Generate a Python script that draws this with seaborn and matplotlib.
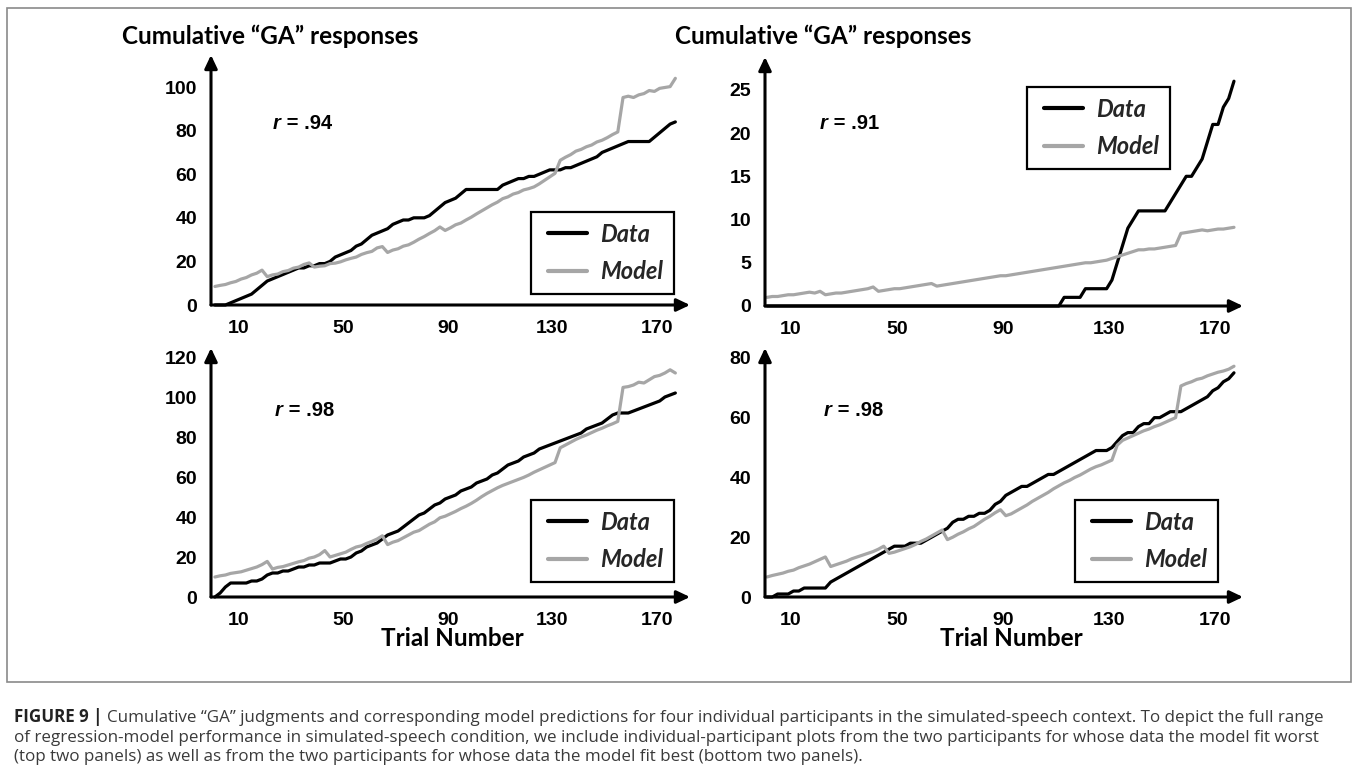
import matplotlib
matplotlib.use("Agg")
import matplotlib.pyplot as plt
import pandas as pd
import seaborn as sns
from matplotlib.lines import Line2D
from matplotlib.legend_handler import HandlerLine2D
from matplotlib.patches import Rectangle

# Trials are plotted at every second trial number
trials = list(range(1, 178, 2))

# Participant A (worst fit, r = .94)
a_data = [0, 0, 0, 1, 2, 3, 4, 5, 7, 9,
          11, 12, 13, 14, 15, 16, 17, 17, 18, 18,
          19, 19, 20, 22, 23, 24, 25, 27, 28, 30,
          32, 33, 34, 35, 37, 38, 39, 39, 40, 40,
          40, 41, 43, 45, 47, 48, 49, 51, 53, 53,
          53, 53, 53, 53, 53, 55, 56, 57, 58, 58,
          59, 59, 60, 61, 62, 62, 62, 63, 63, 64,
          65, 66, 67, 68, 70, 71, 72, 73, 74, 75,
          75, 75, 75, 75, 77, 79, 81, 83, 84]
a_model = [8.5, 9.0, 9.4, 10.2, 10.8, 11.9, 12.6, 13.8, 14.6, 16.0,
           13.0, 13.8, 14.2, 15.3, 15.8, 16.9, 17.4, 18.6, 19.3, 17.4,
           17.8, 18.0, 19.0, 19.2, 19.8, 20.7, 21.4, 22.0, 23.2, 24.0,
           24.6, 26.2, 26.8, 24.1, 25.2, 25.8, 27.0, 27.6, 28.8, 30.2,
           31.4, 32.8, 34.1, 35.8, 34.2, 35.4, 36.8, 37.6, 39.0, 40.3,
           41.8, 43.2, 44.6, 46.0, 47.2, 48.8, 49.6, 50.9, 51.6, 52.8,
           53.4, 54.2, 55.6, 57.2, 58.8, 60.4, 66.4, 67.8, 69.0, 70.6,
           71.4, 72.6, 73.4, 74.8, 75.6, 76.8, 78.2, 79.4, 95.2, 95.8,
           95.2, 96.4, 97.0, 98.4, 98.0, 99.4, 99.8, 100.2, 104.0]

# Participant B (worst fit, r = .91)
b_data = [0, 0, 0, 0, 0, 0, 0, 0, 0, 0,
          0, 0, 0, 0, 0, 0, 0, 0, 0, 0,
          0, 0, 0, 0, 0, 0, 0, 0, 0, 0,
          0, 0, 0, 0, 0, 0, 0, 0, 0, 0,
          0, 0, 0, 0, 0, 0, 0, 0, 0, 0,
          0, 0, 0, 0, 0, 0, 1, 1, 1, 1,
          2, 2, 2, 2, 2, 3, 5, 7, 9, 10,
          11, 11, 11, 11, 11, 11, 12, 13, 14, 15,
          15, 16, 17, 19, 21, 21, 23, 24, 26]
b_model = [1.0, 1.1, 1.1, 1.2, 1.3, 1.3, 1.4, 1.5, 1.6, 1.5,
           1.7, 1.3, 1.4, 1.5, 1.5, 1.6, 1.7, 1.8, 1.9, 2.0,
           2.2, 1.7, 1.8, 1.9, 2.0, 2.0, 2.1, 2.2, 2.3, 2.4,
           2.5, 2.6, 2.3, 2.4, 2.5, 2.6, 2.7, 2.8, 2.9, 3.0,
           3.1, 3.2, 3.3, 3.4, 3.5, 3.5, 3.6, 3.7, 3.8, 3.9,
           4.0, 4.1, 4.2, 4.3, 4.4, 4.5, 4.6, 4.7, 4.8, 4.9,
           5.0, 5.0, 5.1, 5.2, 5.3, 5.5, 5.7, 5.9, 6.1, 6.3,
           6.5, 6.5, 6.6, 6.6, 6.7, 6.8, 6.9, 7.0, 8.4, 8.5,
           8.6, 8.7, 8.8, 8.7, 8.8, 8.9, 8.9, 9.0, 9.1]

# Participant C (best fit, r = .98)
c_data = [0, 2, 5, 7, 7, 7, 7, 8, 8, 9,
          11, 12, 12, 13, 13, 14, 15, 15, 16, 16,
          17, 17, 17, 18, 19, 19, 20, 22, 23, 25,
          26, 27, 29, 31, 32, 33, 35, 37, 39, 41,
          42, 44, 46, 47, 49, 50, 51, 53, 54, 55,
          57, 58, 59, 61, 62, 64, 66, 67, 68, 70,
          71, 72, 74, 75, 76, 77, 78, 79, 80, 81,
          82, 84, 85, 86, 87, 89, 91, 92, 92, 92,
          93, 94, 95, 96, 97, 98, 100, 101, 102]
c_model = [10.0, 10.6, 11.0, 11.8, 12.2, 12.6, 13.4, 14.2, 15.0, 16.2,
           17.8, 14.0, 14.8, 15.2, 16.0, 16.8, 17.6, 18.2, 19.4, 20.0,
           21.2, 23.2, 20.0, 20.8, 21.6, 22.4, 23.8, 25.0, 25.6, 26.8,
           27.8, 29.0, 30.6, 26.2, 27.4, 28.2, 29.6, 31.0, 32.4, 33.2,
           34.8, 36.4, 37.6, 39.6, 40.4, 41.6, 42.8, 44.2, 45.4, 46.8,
           48.4, 50.2, 51.8, 53.2, 54.6, 55.8, 56.8, 57.8, 58.8, 59.8,
           61.0, 62.4, 63.6, 64.8, 66.0, 67.2, 74.6, 76.0, 77.4, 78.8,
           80.0, 81.0, 82.2, 83.4, 84.4, 85.6, 86.6, 87.8, 104.8, 105.2,
           106.0, 107.4, 107.0, 108.6, 110.2, 110.8, 112.0, 113.6, 112.0]

# Participant D (best fit, r = .98)
d_data = [0, 0, 1, 1, 1, 2, 2, 3, 3, 3,
          3, 3, 5, 6, 7, 8, 9, 10, 11, 12,
          13, 14, 15, 16, 17, 17, 17, 18, 18, 18,
          19, 20, 21, 22, 23, 25, 26, 26, 27, 27,
          28, 28, 29, 31, 32, 34, 35, 36, 37, 37,
          38, 39, 40, 41, 41, 42, 43, 44, 45, 46,
          47, 48, 49, 49, 49, 50, 52, 54, 55, 55,
          57, 58, 58, 60, 60, 61, 62, 62, 62, 63,
          64, 65, 66, 67, 69, 70, 72, 73, 75]
d_model = [6.7, 7.2, 7.6, 8.0, 8.6, 9.0, 9.8, 10.4, 11.0, 11.8,
           12.6, 13.4, 10.2, 10.8, 11.4, 12.0, 12.8, 13.4, 14.0, 14.6,
           15.2, 16.0, 17.0, 14.6, 15.0, 15.6, 16.2, 16.8, 17.6, 18.6,
           19.4, 20.4, 21.4, 22.4, 19.2, 20.0, 21.0, 21.8, 22.8, 23.6,
           24.8, 26.0, 27.0, 28.2, 29.2, 27.2, 27.8, 28.8, 29.8, 30.8,
           32.0, 33.0, 34.0, 35.0, 36.2, 37.2, 38.2, 39.0, 40.0, 40.8,
           41.8, 42.8, 43.6, 44.2, 45.0, 45.8, 50.8, 52.4, 53.2, 54.0,
           54.8, 55.6, 56.2, 57.0, 57.6, 58.4, 59.2, 60.0, 70.6, 71.4,
           72.0, 72.8, 73.2, 74.0, 74.6, 75.2, 75.6, 76.2, 77.2]

x_ticks = [10, 50, 90, 130, 170]
r_values = [".94", ".91", ".98", ".98"]
y_label = "Cumulative \u201cGA\u201d responses"
x_label = "Trial Number"
series_names = ["Data", "Model"]
caption_bold = "FIGURE 9 | "
caption_lines = [
    "Cumulative \u201cGA\u201d judgments and corresponding model predictions for four individual "
    "participants in the simulated-speech context. To depict the full range",
    "of regression-model performance in simulated-speech condition, we include individual-participant "
    "plots from the two participants for whose data the model fit worst",
    "(top two panels) as well as from the two participants for whose data the model fit best "
    "(bottom two panels).",
]

W, H = 1358, 769
sns.set_theme(style="white")
SANS = ["Liberation Sans", "DejaVu Sans"]
HUMAN = ["Lato", "DejaVu Sans"]
CAPTION = ["Open Sans", "DejaVu Sans"]
plt.rcParams["font.family"] = SANS

fig = plt.figure(figsize=(W / 100, H / 100), dpi=100)
fig.patch.set_facecolor("white")
renderer = fig.canvas.get_renderer()


def fx(px):
    return px / W


def fy(py):
    return 1 - py / H


def text_run(x, y, parts, **common):
    """Draw consecutive text pieces on one baseline, starting at pixel x."""
    for s, kw in parts:
        t = fig.text(fx(x), fy(y), s, ha="left", va="baseline", **common, **kw)
        x += t.get_window_extent(renderer).width
    return x


palette = {"Data": "black", "Model": "#a6a6a6"}

panels = [
    dict(box=(211, 690, 55, 305), xlim=(-0.5, 182.6), ylim=(0, 114.7),
         yticks=[0, 20, 40, 60, 80, 100], data=a_data, model=a_model,
         r=r_values[0], rpos=(273, 129), leg=(531, 212)),
    dict(box=(765, 1243, 57, 306), xlim=(0.25, 180.4), ylim=(0, 28.8),
         yticks=[0, 5, 10, 15, 20, 25], data=b_data, model=b_model,
         r=r_values[1], rpos=(820, 129), leg=(1027, 87)),
    dict(box=(211, 690, 348, 597), xlim=(-0.5, 182.6), ylim=(0, 124.5),
         yticks=[0, 20, 40, 60, 80, 100, 120], data=c_data, model=c_model,
         r=r_values[2], rpos=(275, 416), leg=(531, 500)),
    dict(box=(765, 1243, 348, 597), xlim=(0.25, 180.4), ylim=(0, 83.3),
         yticks=[0, 20, 40, 60, 80], data=d_data, model=d_model,
         r=r_values[3], rpos=(824, 416), leg=(1075, 500)),
]

for p in panels:
    x0, x1, ytop, ybot = p["box"]
    ax = fig.add_axes([fx(x0), fy(ybot), (x1 - x0) / W, (ybot - ytop) / H])
    ax.set_facecolor("none")
    n = len(trials)
    df = pd.DataFrame({
        "trial": trials + trials,
        "count": p["data"] + p["model"],
        "series": [series_names[0]] * n + [series_names[1]] * n,
    })
    sns.lineplot(data=df, x="trial", y="count", hue="series",
                 hue_order=series_names, palette=palette, estimator=None,
                 linewidth=2.3, ax=ax, clip_on=False)
    ax.set_xlim(*p["xlim"])
    ax.set_ylim(*p["ylim"])
    ax.set_xlabel("")
    ax.set_ylabel("")
    ax.set_xticks(x_ticks)
    ax.set_yticks(p["yticks"])
    for sp in ax.spines.values():
        sp.set_visible(False)
    ax.grid(False)
    ax.tick_params(axis="both", length=0, labelsize=14, colors="black")
    ax.tick_params(axis="x", pad=11)
    ax.tick_params(axis="y", pad=10)
    for lab in ax.get_xticklabels() + ax.get_yticklabels():
        lab.set_fontweight("bold")

    # Arrow-headed axes
    arrow = dict(arrowstyle="-|>,head_length=0.8,head_width=0.38", lw=2.2,
                 color="black", shrinkA=0, shrinkB=0, mutation_scale=10)
    ax.annotate("", xy=(0, 1), xytext=(0, 0), xycoords="axes fraction",
                arrowprops=arrow, annotation_clip=False)
    ax.annotate("", xy=(1, 0), xytext=(0, 0), xycoords="axes fraction",
                arrowprops=arrow, annotation_clip=False)

    handles, labels = ax.get_legend_handles_labels()
    lx, ly = p["leg"]
    leg = ax.legend(handles, labels, loc="upper left",
                    bbox_to_anchor=(fx(lx), fy(ly)), bbox_transform=fig.transFigure,
                    borderaxespad=0, fancybox=False, framealpha=1,
                    edgecolor="black", handlelength=1.92, handletextpad=0.55,
                    borderpad=0.45, labelspacing=0.62,
                    handler_map={Line2D: HandlerLine2D(xpad=0.27)},
                    prop=dict(family=HUMAN, weight="bold", style="italic", size=17))
    leg.get_frame().set_linewidth(1.6)
    for h in leg.get_lines():
        h.set_linewidth(3.0)

    rx, ry = p["rpos"]
    text_run(rx, ry, [("r", dict(style="italic")), (" = " + p["r"], {})],
             family=SANS, weight="bold", size=14.5, color="black")

# Column titles and axis labels
for tx in (122, 675):
    fig.text(fx(tx), fy(36), y_label, ha="left", va="center",
             family=HUMAN, weight="bold", size=17.5, color="black")
for cx in (452, 1011):
    fig.text(fx(cx), fy(639), x_label, ha="center", va="center",
             family=HUMAN, weight="bold", size=17.5, color="black")

# Frame around the figure panels
fig.add_artist(Rectangle((fx(7), fy(682)), (1351 - 7) / W, (682 - 8) / H,
                         transform=fig.transFigure, fill=False,
                         edgecolor="#8a8a8a", lw=1.2))

# Caption, sized so the second line fills the text width
probe = fig.text(0, 0, caption_lines[1], family=CAPTION, size=11)
cap_size = 11 * 1310 / probe.get_window_extent(renderer).width
probe.remove()
cap_y = [722, 742, 761]
text_run(14, cap_y[0], [(caption_bold, dict(weight="bold", color="#222222")),
                        (caption_lines[0], dict(color="#3a3a3a"))],
         family=CAPTION, size=cap_size)
for line, y in zip(caption_lines[1:], cap_y[1:]):
    text_run(14, y, [(line, dict(color="#3a3a3a"))], family=CAPTION, size=cap_size)

fig.savefig("out.png", dpi=100, facecolor="white")
